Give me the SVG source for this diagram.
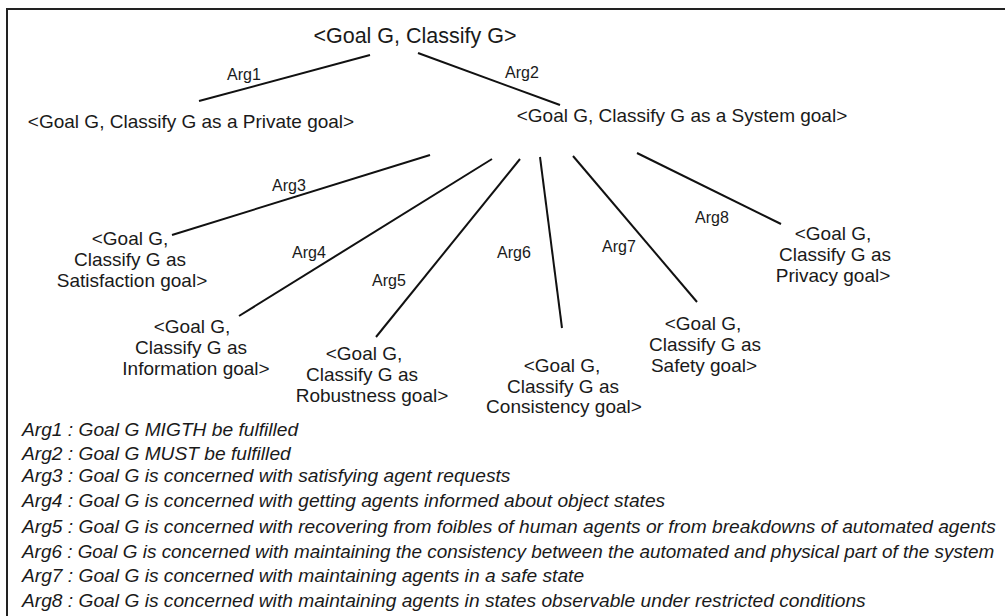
<svg xmlns="http://www.w3.org/2000/svg" width="1005" height="616" viewBox="0 0 1005 616">
<style>
text{font-family:"Liberation Sans",Arial,sans-serif;fill:#1a1a1a}
.n{font-size:19px;text-anchor:middle}
.a{font-size:16px}
.l{font-size:19.2px;font-style:italic}
.c line{stroke:#111;stroke-width:2}
</style>
<rect width="1005" height="616" fill="#fff"/>
<path d="M7 616 V9 H1005" fill="none" stroke="#222" stroke-width="2"/>
<g id="root"><text class="n" x="415" y="43" style="font-size:21.5px">&lt;Goal G, Classify G&gt;</text></g>
<g id="private"><text class="n" x="191" y="128">&lt;Goal G, Classify G as a Private goal&gt;</text></g>
<g id="system"><text class="n" x="682" y="122">&lt;Goal G, Classify G as a System goal&gt;</text></g>
<g id="satisfaction"><text class="n" x="130" y="245">&lt;Goal G,</text><text class="n" x="130" y="266">Classify G as</text><text class="n" x="132" y="287">Satisfaction goal&gt;</text></g>
<g id="information"><text class="n" x="192" y="333">&lt;Goal G,</text><text class="n" x="191" y="354">Classify G as</text><text class="n" x="196" y="375">Information goal&gt;</text></g>
<g id="robustness"><text class="n" x="364" y="360">&lt;Goal G,</text><text class="n" x="362" y="381">Classify G as</text><text class="n" x="372" y="402">Robustness goal&gt;</text></g>
<g id="consistency"><text class="n" x="562" y="372">&lt;Goal G,</text><text class="n" x="563" y="393">Classify G as</text><text class="n" x="564" y="413">Consistency goal&gt;</text></g>
<g id="safety"><text class="n" x="703" y="330">&lt;Goal G,</text><text class="n" x="705" y="351">Classify G as</text><text class="n" x="704" y="372">Safety goal&gt;</text></g>
<g id="privacy"><text class="n" x="833" y="240">&lt;Goal G,</text><text class="n" x="835" y="261">Classify G as</text><text class="n" x="833" y="282">Privacy goal&gt;</text></g>
<g id="connectors" class="c">
<line x1="199" y1="101" x2="370" y2="55"/>
<line x1="418" y1="53" x2="560" y2="105"/>
<line x1="172" y1="235" x2="430" y2="155"/>
<line x1="239" y1="316" x2="492" y2="159"/>
<line x1="376" y1="337" x2="520" y2="159"/>
<line x1="540" y1="157" x2="562" y2="328"/>
<line x1="573" y1="156" x2="697" y2="302"/>
<line x1="637" y1="153" x2="781" y2="224"/>
<text class="a" x="227" y="80">Arg1</text>
<text class="a" x="505" y="78">Arg2</text>
<text class="a" x="272" y="191">Arg3</text>
<text class="a" x="292" y="258">Arg4</text>
<text class="a" x="372" y="286">Arg5</text>
<text class="a" x="497" y="258">Arg6</text>
<text class="a" x="602" y="252">Arg7</text>
<text class="a" x="695" y="223">Arg8</text>
</g>
<g id="legend">
<text class="l" x="22" y="436">Arg1 : Goal G MIGTH be fulfilled</text>
<text class="l" x="22" y="460">Arg2 : Goal G MUST be fulfilled</text>
<text class="l" x="22" y="482">Arg3 : Goal G is concerned with satisfying agent requests</text>
<text class="l" x="22" y="507">Arg4 : Goal G is concerned with getting agents informed about object states</text>
<text class="l" x="22" y="533">Arg5 : Goal G is concerned with recovering from foibles of human agents or from breakdowns of automated agents</text>
<text class="l" x="22" y="558" style="font-size:18.9px">Arg6 : Goal G is concerned with maintaining the consistency between the automated and physical part of the system</text>
<text class="l" x="22" y="582">Arg7 : Goal G is concerned with maintaining agents in a safe state</text>
<text class="l" x="22" y="607">Arg8 : Goal G is concerned with maintaining agents in states observable under restricted conditions</text>
</g>
</svg>
